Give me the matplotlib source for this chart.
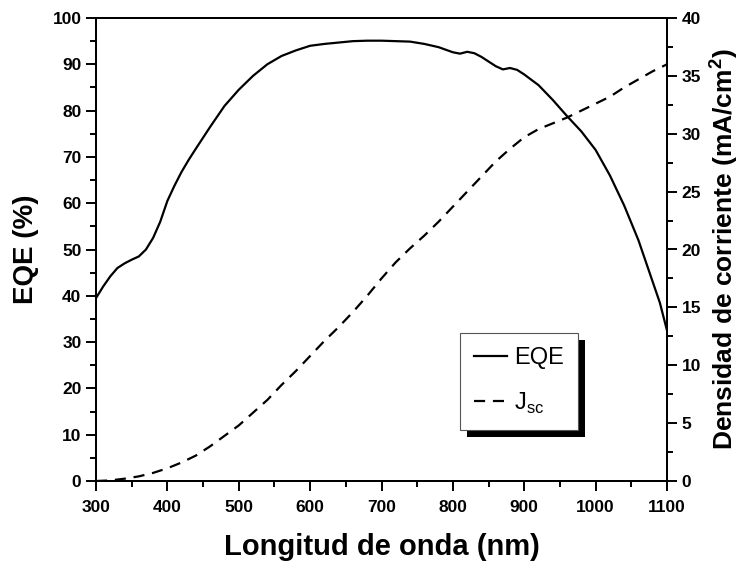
import matplotlib
matplotlib.use("Agg")
import matplotlib.pyplot as plt
from matplotlib.patches import Rectangle
from matplotlib.ticker import MultipleLocator

plt.rcParams['font.family'] = ['Liberation Sans', 'DejaVu Sans']
plt.rcParams['mathtext.fontset'] = 'custom'
plt.rcParams['mathtext.rm'] = 'Liberation Sans'
plt.rcParams['mathtext.bf'] = 'Liberation Sans:bold'

# EQE curve (left axis, %)
eqe_nm = [300, 310, 320, 330, 340, 350, 360, 370, 380, 390, 400, 410, 420, 430,
          440, 460, 480, 500, 520, 540, 560, 580, 600, 620, 640, 660, 680,
          700, 720, 740, 760, 780, 800, 810, 820, 830, 840, 860, 870, 880,
          890, 900, 920, 940, 960, 980, 1000, 1020, 1040, 1060, 1080, 1090, 1100]
eqe = [39.5, 42.0, 44.2, 46.0, 47.0, 47.8, 48.5, 50.0, 52.5, 56.0, 60.5, 63.8, 66.8, 69.4,
       71.8, 76.5, 81.0, 84.5, 87.5, 90.0, 91.8, 93.0, 94.0, 94.4, 94.7, 95.0, 95.1,
       95.1, 95.0, 94.9, 94.4, 93.7, 92.6, 92.3, 92.7, 92.4, 91.6, 89.6, 88.9, 89.2,
       88.8, 87.8, 85.5, 82.3, 78.8, 75.5, 71.5, 66.0, 59.5, 52.0, 43.0, 38.5, 32.5]

# integrated current density (right axis, mA/cm2)
jsc_nm = [300, 320, 340, 360, 380, 400, 420, 440, 460, 480, 500, 520, 540, 560,
          580, 600, 620, 640, 660, 680, 700, 720, 740, 760, 780, 800, 820, 840,
          860, 880, 900, 920, 940, 960, 980, 1000, 1020, 1040, 1060, 1080, 1100]
jsc = [0.0, 0.05, 0.2, 0.4, 0.7, 1.1, 1.6, 2.2, 3.0, 3.9, 4.8, 5.9, 7.0, 8.3,
       9.5, 10.8, 12.1, 13.3, 14.6, 16.0, 17.5, 18.9, 20.1, 21.2, 22.4, 23.7, 25.0, 26.3,
       27.6, 28.7, 29.7, 30.4, 30.9, 31.4, 32.0, 32.6, 33.2, 34.0, 34.7, 35.4, 36.0]

fig = plt.figure(figsize=(7.42, 5.63), dpi=100)
ax = fig.add_axes([96 / 742, 1 - 481 / 563, (667 - 96) / 742, (481 - 18) / 563])
ax2 = ax.twinx()

l1, = ax.plot(eqe_nm, eqe, color='black', lw=1.6, label='EQE')
l2, = ax2.plot(jsc_nm, jsc, color='black', lw=1.6, dashes=(5, 3.5), label='J$_\\mathregular{sc}$')

ax.set_xlim(300, 1100)
ax.set_ylim(0, 100)
ax2.set_ylim(0, 40)
ax.xaxis.set_major_locator(MultipleLocator(100))
ax.xaxis.set_minor_locator(MultipleLocator(50))
ax.yaxis.set_major_locator(MultipleLocator(10))
ax.yaxis.set_minor_locator(MultipleLocator(5))
ax2.yaxis.set_major_locator(MultipleLocator(5))
ax2.yaxis.set_minor_locator(MultipleLocator(2.5))

for a in (ax, ax2):
    for s in a.spines.values():
        s.set_linewidth(1.4)
    a.tick_params(which='major', direction='out', length=7, width=1.4, labelsize=12.5)
    a.tick_params(which='minor', direction='out', length=4, width=1.4)
    for lab in a.get_xticklabels() + a.get_yticklabels():
        lab.set_fontweight('bold')
ax.tick_params(axis='x', which='both', top=False)
ax.tick_params(axis='x', which='major', pad=6.5)

ax.set_xlabel('Longitud de onda (nm)', fontsize=21, fontweight='bold', labelpad=13)
ax.set_ylabel('EQE (%)', fontsize=20, fontweight='bold', labelpad=10)
ax2.set_ylabel('Densidad de corriente (mA/cm$^\\mathbf{2}$)', fontsize=19, fontweight='bold', labelpad=4)

leg = ax2.legend(handles=[l1, l2], loc='upper left',
                 bbox_to_anchor=(460 / 742, 1 - 333 / 563), bbox_transform=fig.transFigure,
                 borderaxespad=0, fancybox=False, frameon=True, fontsize=17,
                 handlelength=1.4, handletextpad=0.3, labelspacing=0.9, borderpad=0.6)
leg.get_frame().set_edgecolor('#555555')
leg.get_frame().set_linewidth(0.8)
leg.get_frame().set_alpha(1)

fig.canvas.draw()
bb = leg.get_window_extent().transformed(fig.transFigure.inverted())
off_x, off_y = 7 / 742, 7 / 563
shadow = Rectangle((bb.x0 + off_x, bb.y0 - off_y), bb.width, bb.height,
                   transform=fig.transFigure, facecolor='black', edgecolor='none', zorder=4)
fig.patches.append(shadow)
leg.set_zorder(10)
ax2.set_zorder(5)
ax2.patch.set_visible(False)

fig.savefig('out.png', dpi=100)
